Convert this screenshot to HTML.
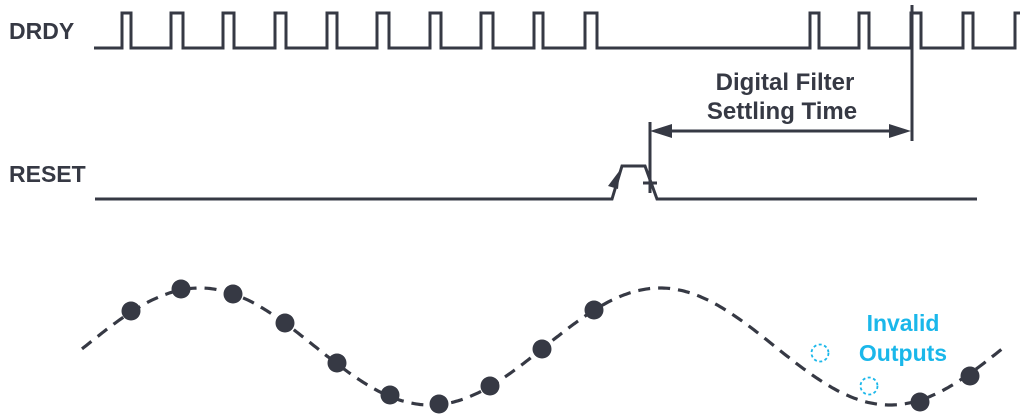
<!DOCTYPE html>
<html><head><meta charset="utf-8"><style>
html,body{margin:0;padding:0;background:#fff;}
svg{display:block;}
text{font-family:"Liberation Sans",sans-serif;font-weight:bold;}
</style></head><body>
<svg id="s" width="1031" height="418" viewBox="0 0 1031 418" xmlns="http://www.w3.org/2000/svg">
<g fill="none" stroke="#363944" stroke-width="3" stroke-linejoin="miter">
<path d="M94 48 H122 V13 H131 V48 H171 V13 H183 V48 H223 V13 H234 V48 H275 V13 H286 V48 H327 V13 H337 V48 H377 V13 H389 V48 H430 V13 H441 V48 H481 V13 H493 V48 H534 V13 H543 V48 H585 V13 H597 V48 H810 V13 H819 V48 H859 V13 H869 V48 H911 V13 H921 V48 H963 V13 H973 V48 H1015 V13 H1020"/>
<path d="M912 5 V141"/>
<path d="M650 122 V193"/>
<path d="M660 131 H900"/>
<path d="M95 199 H612 L622 166 H645 L657 199 H977"/>
<path d="M643 183 H657"/>
</g>
<polygon points="650,131 672,124 672,138" fill="#363944"/>
<polygon points="911,131 889,124 889,138" fill="#363944"/>
<polygon points="620,170 608,186 618,189" fill="#363944"/>
<path id="w" fill="none" stroke="#363944" stroke-width="3.2" stroke-dasharray="12,8"/>
<g fill="#363944">
<circle cx="131" cy="311" r="9.5"/><circle cx="181" cy="289" r="9.5"/><circle cx="233" cy="294" r="9.5"/>
<circle cx="285" cy="323" r="9.5"/><circle cx="337" cy="363" r="9.5"/><circle cx="390" cy="395" r="9.5"/>
<circle cx="439" cy="404" r="9.5"/><circle cx="490" cy="386" r="9.5"/><circle cx="542" cy="349" r="9.5"/>
<circle cx="594" cy="310" r="9.5"/><circle cx="920" cy="402" r="9.5"/><circle cx="970" cy="376" r="9.5"/>
</g>
<g fill="#fff" stroke="#1ab7ea" stroke-width="1.8" stroke-dasharray="3,2.5">
<circle cx="820" cy="353" r="8.5"/><circle cx="869" cy="386" r="8.5"/>
</g>
<text x="9" y="39" font-size="23" fill="#363944">DRDY</text>
<text x="9" y="182" font-size="23" fill="#363944">RESET</text>
<text x="785" y="90" font-size="24" fill="#363944" text-anchor="middle">Digital Filter</text>
<text x="782" y="119" font-size="24" fill="#363944" text-anchor="middle">Settling Time</text>
<text x="903" y="331" font-size="23" fill="#1ab7ea" text-anchor="middle">Invalid</text>
<text x="903" y="361" font-size="23" fill="#1ab7ea" text-anchor="middle">Outputs</text>
</svg>
<script>
var d="";for(var x=82;x<=1005;x+=2){var y=346.5-58.5*Math.cos(2*Math.PI*(x-200)/460);d+=(x==82?"M":"L")+x+" "+y.toFixed(1);}
document.getElementById("w").setAttribute("d",d);
</script>
</body></html>
